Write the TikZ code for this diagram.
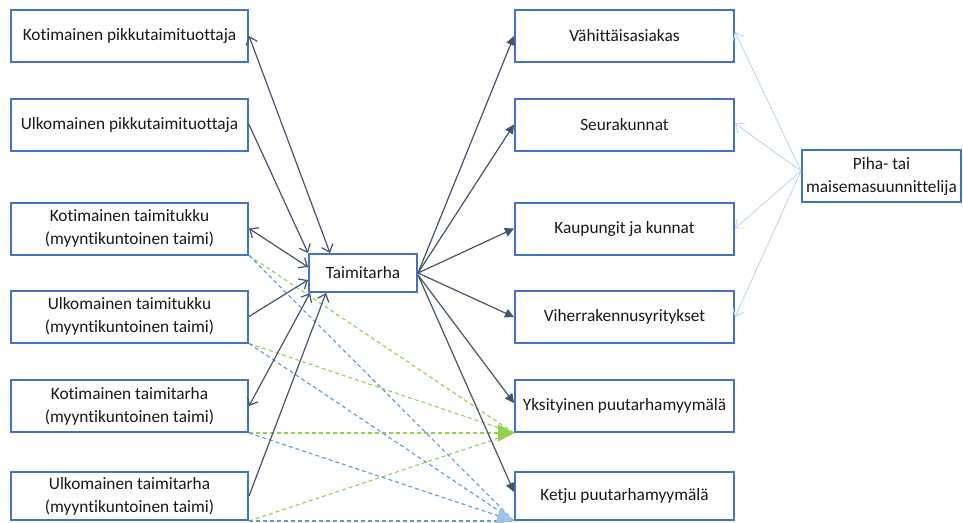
\documentclass[tikz,border=0pt]{standalone}
\usepackage{fontspec}
\setmainfont[Ligatures=NoCommon]{Carlito}
\usetikzlibrary{arrows.meta}
\definecolor{boxblue}{HTML}{4472C4}
\definecolor{dark}{HTML}{44546A}
\definecolor{grn}{HTML}{92D050}
\definecolor{blu}{HTML}{5B9BD5}
\definecolor{lblu}{HTML}{9DC3E6}
\definecolor{pale}{HTML}{BDD7EE}
\tikzset{
  mybarb/.tip={Straight Barb[length=7pt,width=12pt]},
  mytri/.tip={Triangle[length=9pt,width=9pt]}}
\begin{document}
\begin{tikzpicture}[x=1pt,y=-1pt,
  box/.style={draw=boxblue,line width=2pt,fill=white,align=center,inner sep=0pt,
    font=\fontsize{17.3}{23}\selectfont,text=black!90},
  lbox/.style={box,minimum width=237pt,minimum height=52pt},
  rbox/.style={box,minimum width=219pt,minimum height=52pt},
  dk/.style={draw=dark,line width=1.2pt},
  gd/.style={draw=grn,line width=1.1pt,dash pattern=on 4pt off 3pt},
  bd/.style={draw=blu,line width=1.1pt,dash pattern=on 4pt off 3pt},
  pl/.style={draw=pale,line width=0.9pt}]
\useasboundingbox (0,0) rectangle (963,522);

% left column
\node[lbox] (L1) at (129.5,36) {Kotimainen pikkutaimituottaja};
\node[lbox] (L2) at (129.5,124.5) {Ulkomainen pikkutaimituottaja};
\node[lbox] (L3) at (129.5,228.5) {Kotimainen taimitukku\\(myyntikuntoinen taimi)};
\node[lbox] (L4) at (129.5,316.5) {Ulkomainen taimitukku\\(myyntikuntoinen taimi)};
\node[lbox] (L5) at (129.5,406) {Kotimainen taimitarha\\(myyntikuntoinen taimi)};
\node[lbox,minimum height=48pt] (L6) at (129.5,496) {Ulkomainen taimitarha\\(myyntikuntoinen taimi)};

% centre
\node[box,minimum width=108pt,minimum height=38pt] (T) at (363,273) {Taimitarha};

% right column
\node[rbox] (R1) at (624.5,36) {Vähittäisasiakas};
\node[rbox] (R2) at (624.5,124.5) {Seurakunnat};
\node[rbox] (R3) at (624.5,228.5) {Kaupungit ja kunnat};
\node[rbox] (R4) at (624.5,317) {Viherrakennusyritykset};
\node[rbox] (R5) at (624.5,406) {Yksityinen puutarhamyymälä};
\node[rbox,minimum height=48pt] (R6) at (624.5,496) {Ketju puutarhamyymälä};

\node[box,minimum width=159pt,minimum height=52pt] (P) at (881.5,176) {Piha- tai\\maisemasuunnittelija};

% dashed green
\draw[gd] (L3.south east) -- (R5.south west);
\draw[gd] (L4.south east) -- (R5.south west);
\draw[gd] (L6.south east) -- (R5.south west);
\draw[gd,-{Triangle[length=16pt,width=17pt,color=grn]}] (L5.south east) -- (R5.south west);

% dashed blue
\draw[bd] (L3.south east) -- (R6.south west);
\draw[bd] (L4.south east) -- (R6.south west);
\draw[bd] (L6.south east) -- (R6.south west);
\draw[bd,-{Triangle[length=17pt,width=17pt,color=lblu]}] (L5.south east) -- (R6.south west);

% dark connectors, left
\draw[dk,mybarb-mybarb] (L1.east) -- ([xshift=22pt]T.north west);
\draw[dk,-mybarb] (L2.east) -- (T.north west);
\draw[dk,mybarb-mybarb] (L3.east) -- ([yshift=6pt]T.west);
\draw[dk,-mybarb] (L4.east) -- ([yshift=-7pt]T.west);
\draw[dk,mybarb-mybarb] (L5.east) -- ([xshift=2pt]T.south west);
\draw[dk,-mybarb] (L6.east) -- ([xshift=18pt]T.south west);

% dark connectors, right
\draw[dk,-mytri] (T.east) -- (R1.west);
\draw[dk,-mytri] (T.east) -- (R2.west);
\draw[dk,-mytri] (T.east) -- (R3.west);
\draw[dk,-mytri] (T.east) -- (R4.west);
\draw[dk,-mytri] ([yshift=-2pt]T.east) -- ([yshift=3pt]R5.west);
\draw[dk,-mytri] ([yshift=-2pt]T.east) -- ([yshift=4pt]R6.west);

% Piha connectors
\draw[pl,-mybarb] ([yshift=5pt]P.west) -- ([yshift=4pt]R1.east);
\draw[pl,-mybarb] ([yshift=5pt]P.west) -- ([yshift=1pt]R2.east);
\draw[pl,-mybarb] ([yshift=5pt]P.west) -- (R3.east);
\draw[pl,-mybarb] ([yshift=5pt]P.west) -- (R4.east);
\end{tikzpicture}
\end{document}
